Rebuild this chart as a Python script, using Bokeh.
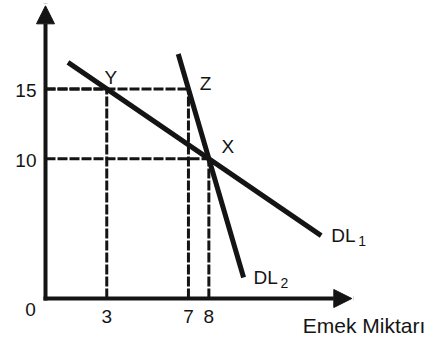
from bokeh.plotting import figure
from bokeh.models import Arrow, NormalHead, Range1d
from bokeh.core.properties import value
from bokeh.embed import file_html
from bokeh.resources import INLINE

# ---- data ----
y_ticks = [15, 10]
y_tick_labels = ["15", "10"]
x_ticks = [3, 7, 8]
x_tick_labels = ["3", "7", "8"]

point_names = ["Y", "Z", "X"]
point_x = [3, 7, 8]
point_y = [15, 15, 10]

# demand for labour curves
dl1_x = [1.1, 13.5]
dl1_y = [16.9, 4.5]
dl2_x = [6.5, 9.7]
dl2_y = [17.5, 1.5]

x_axis_end = 15.0
y_axis_end = 20.95
x_title = "Emek Miktarı"

FONT = value("Liberation Sans")
INK = "#141414"

p = figure(width=430, height=338, output_backend="svg", toolbar_location=None,
           x_range=Range1d(-2.204, 18.854), y_range=Range1d(-2.863, 21.331),
           min_border=0, outline_line_color=None)
p.axis.visible = False
p.grid.visible = False
p.background_fill_color = "white"

# dashed guide lines
p.segment(x0=[0] * len(point_x), y0=point_y, x1=point_x, y1=point_y,
          line_color=INK, line_width=3, line_dash="10 2")
p.segment(x0=point_x, y0=[0] * len(point_x), x1=point_x, y1=point_y,
          line_color=INK, line_width=3, line_dash="10 2")

# curves
p.line(dl1_x, dl1_y, line_color=INK, line_width=5)
p.line(dl2_x, dl2_y, line_color=INK, line_width=5)

# axes with arrow heads
p.add_layout(Arrow(end=NormalHead(size=18, fill_color=INK, line_color=INK, line_width=1),
                   x_start=0, y_start=0, x_end=x_axis_end, y_end=0,
                   line_width=4, line_color=INK, line_cap="square"))
p.add_layout(Arrow(end=NormalHead(size=18, fill_color=INK, line_color=INK, line_width=1),
                   x_start=0, y_start=0, x_end=0, y_end=y_axis_end,
                   line_width=4, line_color=INK, line_cap="square"))

# tick labels
p.text(x=[0] * len(y_ticks), y=y_ticks, text=y_tick_labels, x_offset=-9, y_offset=2,
       text_align="right", text_baseline="middle", text_font=FONT,
       text_font_size="19px", text_color=INK)
p.text(x=x_ticks, y=[0] * len(x_ticks), text=x_tick_labels, x_offset=0, y_offset=18,
       text_align="center", text_baseline="middle", text_font=FONT,
       text_font_size="19px", text_color=INK)
p.text(x=[0], y=[0], text=["0"], x_offset=-15, y_offset=11,
       text_align="center", text_baseline="middle", text_font=FONT,
       text_font_size="19px", text_color=INK)

# point labels
offsets = {"Y": (4, -11), "Z": (17, -5), "X": (19, -12)}
for name, px, py in zip(point_names, point_x, point_y):
    dx, dy = offsets[name]
    p.text(x=[px], y=[py], text=[name], x_offset=dx, y_offset=dy,
           text_align="center", text_baseline="middle", text_font=FONT,
           text_font_size="19px", text_color=INK)

# curve labels
for cx, cy, sub in [(dl1_x[-1], dl1_y[-1], "1"), (dl2_x[-1], dl2_y[-1], "2")]:
    p.text(x=[cx], y=[cy], text=["DL"], x_offset=10, y_offset=0,
           text_align="left", text_baseline="middle", text_font=FONT,
           text_font_size="19px", text_color=INK)
    p.text(x=[cx], y=[cy], text=[sub], x_offset=37, y_offset=5,
           text_align="left", text_baseline="middle", text_font=FONT,
           text_font_size="14px", text_color=INK)

# axis title
p.text(x=[x_axis_end], y=[0], text=[x_title], x_offset=-49, y_offset=27,
       text_align="left", text_baseline="middle", text_font=FONT,
       text_font_size="21px", text_color=INK)

open("out.html", "w").write(file_html(p, INLINE))
